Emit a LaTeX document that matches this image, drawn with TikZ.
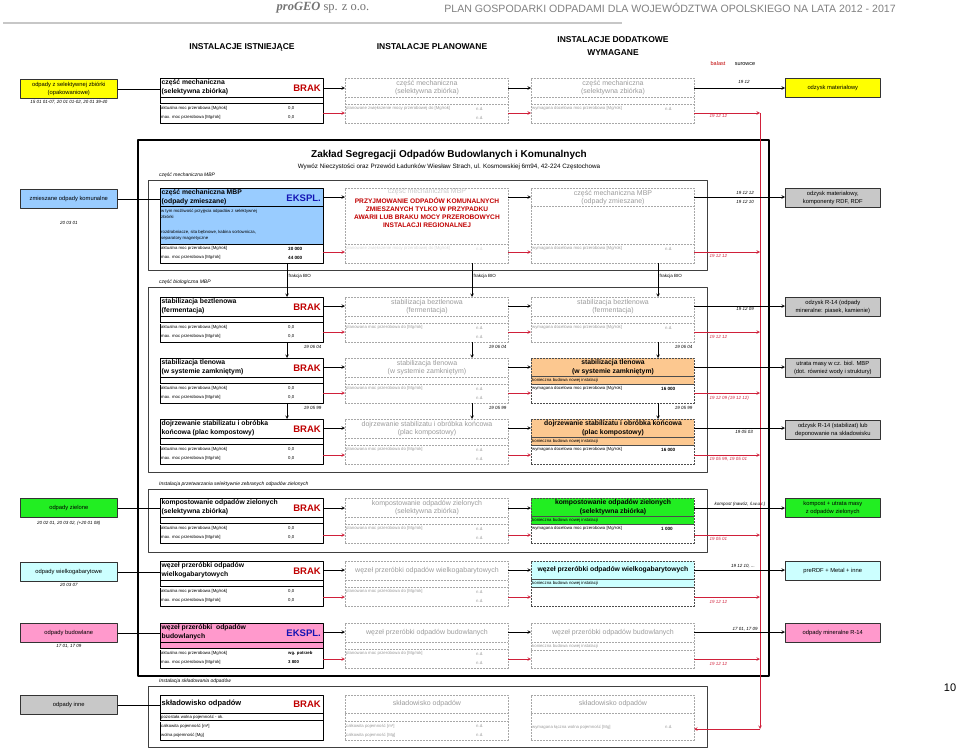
\documentclass[tikz,border=0pt]{standalone}
\usepackage{fontspec}
\setmainfont{Liberation Sans}
\newfontfamily\headserif{Liberation Serif}
\definecolor{gtxt}{HTML}{9A9A9A}
\definecolor{gline}{HTML}{A8A8A8}
\definecolor{brakred}{HTML}{C00000}
\definecolor{ekblue}{HTML}{1414B4}
\definecolor{redline}{HTML}{D0203A}
\definecolor{fyel}{HTML}{FFFF00}
\definecolor{fblue}{HTML}{99CCFF}
\definecolor{fgray}{HTML}{C8C8C8}
\definecolor{fgreen}{HTML}{22EE22}
\definecolor{fcyan}{HTML}{CCFFFF}
\definecolor{fpink}{HTML}{FF99CC}
\definecolor{forange}{HTML}{FCC890}
\begin{document}
\begin{tikzpicture}[x=1pt,y=-1pt,>=stealth,line join=round,
 box/.style={draw,minimum width=163,minimum height=45,anchor=north west,inner sep=0pt,outer sep=0pt},
 ist/.style={box,line width=0.9pt},
 pla/.style={box,draw=gline,line width=0.6pt,dash pattern=on 2pt off 1pt},
 ttl/.style={anchor=west,align=left,inner sep=0.5pt,font=\bfseries\fontsize{6.8}{8.6}\selectfont},
 cttl/.style={ttl,anchor=center,align=center},
 gttl/.style={anchor=center,align=center,inner sep=0.5pt,text=gtxt,font=\fontsize{7}{8.6}\selectfont},
 sml/.style={anchor=west,inner sep=1pt,font=\fontsize{4.3}{6}\selectfont},
 gsml/.style={sml,text=gtxt},
 val/.style={sml,font=\bfseries\fontsize{4.6}{6}\selectfont},
 stat/.style={anchor=east,inner sep=0pt,font=\bfseries\fontsize{9.5}{11}\selectfont},
 brak/.style={stat,text=brakred,node contents=BRAK},
 ekspl/.style={stat,text=ekblue,node contents=EKSPL.},
 srcbox/.style={draw=black!80,line width=0.6pt,minimum width=97,minimum height=19,anchor=north west,align=center,inner sep=0.5pt,font=\fontsize{5.8}{7.4}\selectfont},
 outbox/.style={srcbox,minimum width=95},
 code/.style={inner sep=0.5pt,font=\itshape\fontsize{4.5}{5}\selectfont},
 rlbl/.style={code,anchor=west,text=redline},
 frame/.style={draw=black!75,line width=0.6pt},
 flbl/.style={anchor=south west,inner sep=1pt,font=\itshape\fontsize{5}{6}\selectfont},
 hdr/.style={align=center,font=\bfseries\fontsize{8.5}{13}\selectfont},
 redl/.style={draw=redline,line width=0.6pt},
 dbl/.style={double,double distance=0.7pt,line width=0.4pt},
 fbio/.style={anchor=west,inner sep=0.5pt,font=\fontsize{4.5}{5}\selectfont}]
\def\istbox#1#2#3#4#5#6#7#8{%
 \fill[#4] (#2,#3) rectangle ++(163,26);
 \node[ist] (#1) at (#2,#3) {};
 \node[ttl] (#1-t) at (#2+1,#3+9.5) {#5};
 \node[name=#1-st,at={(#2+161,#3+10)},#6];
 \draw[line width=0.5pt] (#2,#3+19) -- ++(163,0);
 \draw[dbl] (#2,#3+26) -- ++(163,0);
 \node[sml] (#1-a) at (#2,#3+30.5) {aktualna moc przerobowa [Mg/rok]};
 \node[sml] (#1-av) at (#2+127,#3+30.5) {#7};
 \node[sml] (#1-m) at (#2,#3+39.5) {max. moc przerobowa [Mg/rok]};
 \node[sml] (#1-mv) at (#2+127,#3+39.5) {#8};}
\def\plabox#1#2#3#4#5{%
 \node[pla] (#1) at (#2,#3) {};
 \node[gttl] (#1-t) at (#2+82,#3+9.5) {#4};
 \draw[gline,dash pattern=on 2pt off 1pt] (#2,#3+19) -- ++(163,0) (#2,#3+26) -- ++(163,0);
 \node[gsml] (#1-a) at (#2,#3+30.5) {#5};
 \node[gsml] (#1-av) at (#2+130,#3+30.5) {n.d.};
 \node[gsml] (#1-mv) at (#2+130,#3+39.5) {n.d.};}
\def\dodbox#1#2#3#4{%
 \node[pla] (#1) at (#2,#3) {};
 \node[gttl] (#1-t) at (#2+82,#3+9.5) {#4};
 \draw[gline,dash pattern=on 2pt off 1pt] (#2,#3+19) -- ++(163,0) (#2,#3+26) -- ++(163,0);
 \node[gsml] (#1-a) at (#2,#3+30.5) {wymagana docelowa moc przerobowa [Mg/rok]};
 \node[gsml] (#1-av) at (#2+133,#3+30.5) {n.d.};}
\def\dodfill#1#2#3#4#5#6#7{%
 \fill[#4] (#2,#3) rectangle ++(163,26);
 \node[pla,draw=black!70] (#1) at (#2,#3) {};
 \node[cttl] (#1-t) at (#2+82,#3+9) {#5};
 \draw[black!70] (#2,#3+18) -- ++(163,0) (#2,#3+26) -- ++(163,0);
 \node[sml] (#1-k) at (#2,#3+22) {konieczna budowa nowej instalacji};
 \node[sml] (#1-a) at (#2,#3+30.5) {#6};
 \node[val] (#1-av) at (#2+129,#3+30.5) {#7};}
\useasboundingbox (0,0) rectangle (960,750);
\node[font=\headserif\fontsize{12.5}{14}\selectfont,text=black!55] (hd-firm) at (323,8) {\textbf{\textit{proGEO}} sp. z o.o.};
\node[font=\fontsize{10.6}{12}\selectfont,text=black!50] (hd-plan) at (670,8) {PLAN GOSPODARKI ODPADAMI DLA WOJEWÓDZTWA OPOLSKIEGO NA LATA 2012 - 2017};
\draw[black!22,line width=1.8pt] (3,23) -- (622,23);
\node[hdr] (hd-ist) at (242,47) {INSTALACJE ISTNIEJĄCE};
\node[hdr] (hd-pla) at (432,47) {INSTALACJE PLANOWANE};
\node[hdr] (hd-dod) at (613,46.5) {INSTALACJE DODATKOWE\\WYMAGANE};
\node[font=\fontsize{5.5}{6}\selectfont,text=brakred] (bal) at (718,64) {balast};
\node[font=\fontsize{5.5}{6}\selectfont] (sur) at (745,64) {surowce};
\node[font=\fontsize{11}{13}\selectfont] (pg) at (950,688) {10};
\draw[line width=1.4pt] (138,140) rectangle (769,676);
\node[font=\bfseries\fontsize{10}{12}\selectfont] (zak-t) at (449,155) {Zakład Segregacji Odpadów Budowlanych i Komunalnych};
\node[font=\fontsize{6.3}{8}\selectfont] (zak-s) at (449,167) {Wywóz Nieczystości oraz Przewód Ładunków Wiesław Strach, ul. Kosmowskiej 6m94, 42-224 Częstochowa};
\foreach \n/\a/\bb/\txt in {mech/180/270/część mechaniczna MBP,bio/287/472/część biologiczna MBP,ziel/489/552/Instalacja przetwarzania selektywnie zebranych odpadów zielonych,skl/686/747/Instalacja składowania odpadów}{
 \draw[frame] (148,\a) rectangle (707,\bb);
 \node[flbl] (fl-\n) at (158,\a-1) {\txt};}
\node[srcbox,fill=fyel] (src-s) at (20,79) {odpady z selektywnej zbiórki\\(opakowaniowe)};
\node[code,anchor=north] (cod-s) at ([yshift=-1.5pt]src-s.south) {15 01 01-07, 20 01 01-02, 20 01 39-40};
\istbox{ist-s}{160}{78}{white}{część mechaniczna\\(selektywna zbiórka)}{brak}{0,0}{0,0}
\plabox{pla-s}{345}{78}{część mechaniczna\\(selektywna zbiórka)}{planowane zwiększenie mocy przerobowej do [Mg/rok]}
\dodbox{dod-s}{531}{78}{część mechaniczna\\(selektywna zbiórka)}
\node[outbox,fill=fyel] (out-s) at (785,78) {odzysk materiałowy};
\node[srcbox,fill=fblue] (src-m) at (20,189) {zmieszane odpady komunalne};
\node[code,anchor=north] (cod-m) at ([yshift=-12.5pt]src-m.south) {20 03 01};
\fill[fblue] (160,188) rectangle ++(163,56);
\node[ist,minimum height=75] (ist-m) at (160,188) {};
\node[ttl] (ist-m-t) at (161,197.5) {część mechaniczna MBP\\(odpady zmieszane)};
\node[name=ist-m-st,at={(321,198)},ekspl];
\draw (160,206) -- ++(163,0);
\draw[line width=0.9pt] (160,244) -- ++(163,0);
\node[sml,anchor=north west,align=left] (ist-m-o) at (160,208) {w tym możliwość przyjęcia odpadów z selektywnej\\zbiórki};
\node[sml,anchor=north west,align=left] (ist-m-u) at (160,229) {rozdrabniacze, sita bębnowe, kabina sortownicza,\\separatory magnetyczne};
\node[sml] (ist-m-a) at (160,248.5) {aktualna moc przerobowa [Mg/rok]};
\node[val] (ist-m-av) at (287,248.5) {30 000};
\node[sml] (ist-m-m) at (160,257.5) {max. moc przerobowa [Mg/rok]};
\node[val] (ist-m-mv) at (287,257.5) {44 000};
\node[pla,minimum height=75] (pla-m) at (345,188) {};
\node[gttl,text=gtxt!55] (pla-m-t) at (427,192) {część mechaniczna MBP};
\node[font=\bfseries\fontsize{6.6}{8}\selectfont,text=brakred,align=center] (pla-m-r) at (427,213) {PRZYJMOWANIE ODPADÓW KOMUNALNYCH\\ZMIESZANYCH TYLKO W PRZYPADKU\\AWARII LUB BRAKU MOCY PRZEROBOWYCH\\INSTALACJI REGIONALNEJ};
\draw[gline,dash pattern=on 2pt off 1pt] (345,244) -- ++(163,0);
\node[gsml,text=gtxt!40] (pla-m-a) at (345,248.5) {planowane zwiększenie mocy przerobowej do [Mg/rok]};
\node[gsml,text=gtxt!40] (pla-m-av) at (475,248.5) {n.d.};
\node[pla,minimum height=75] (dod-m) at (531,188) {};
\node[gttl] (dod-m-t) at (613,197.5) {część mechaniczna MBP\\(odpady zmieszane)};
\draw[gline,dash pattern=on 2pt off 1pt] (531,206) -- ++(163,0) (531,244) -- ++(163,0);
\node[gsml] (dod-m-a) at (531,248.5) {wymagana docelowa moc przerobowa [Mg/rok]};
\node[gsml] (dod-m-av) at (664,248.5) {n.d.};
\node[outbox,fill=fgray] (out-m) at (785,188) {odzysk materiałowy,\\komponenty RDF, RDF};
\istbox{ist-f}{160}{297}{white}{stabilizacja beztlenowa\\(fermentacja)}{brak}{0,0}{0,0}
\plabox{pla-f}{345}{297}{stabilizacja beztlenowa\\(fermentacja)}{planowana moc przerobowa do [Mg/rok]}
\dodbox{dod-f}{531}{297}{stabilizacja beztlenowa\\(fermentacja)}
\node[outbox,fill=fgray] (out-f) at (785,297) {odzysk R-14 (odpady\\mineralne: piasek, kamienie)};
\istbox{ist-t}{160}{358}{white}{stabilizacja tlenowa\\(w systemie zamkniętym)}{brak}{0,0}{0,0}
\plabox{pla-t}{345}{358}{stabilizacja tlenowa\\(w systemie zamkniętym)}{planowana moc przerobowa do [Mg/rok]}
\dodfill{dod-t}{531}{358}{forange}{stabilizacja tlenowa\\(w systemie zamkniętym)}{wymagana docelowa moc przerobowa [Mg/rok]}{16 000}
\node[outbox,fill=fgray] (out-t) at (785,358) {utrata masy w cz. biol. MBP\\(dot. również wody i struktury)};
\istbox{ist-d}{160}{419}{white}{dojrzewanie stabilizatu i obróbka\\końcowa (plac kompostowy)}{brak}{0,0}{0,0}
\plabox{pla-d}{345}{419}{dojrzewanie stabilizatu i obróbka końcowa\\(plac kompostowy)}{planowana moc przerobowa do [Mg/rok]}
\dodfill{dod-d}{531}{419}{forange}{dojrzewanie stabilizatu i obróbka końcowa\\(plac kompostowy)}{wymagana docelowa moc przerobowa [Mg/rok]}{16 000}
\node[outbox,fill=fgray] (out-d) at (785,420) {odzysk R-14 (stabilizat) lub\\deponowanie na składowisku};
\node[srcbox,fill=fgreen] (src-z) at (20,498) {odpady zielone};
\node[code,anchor=north] (cod-z) at ([yshift=-2.5pt]src-z.south) {20 02 01, 20 03 02, (+20 01 08)};
\istbox{ist-z}{160}{498}{white}{kompostowanie odpadów zielonych\\(selektywna zbiórka)}{brak}{0,0}{0,0}
\plabox{pla-z}{345}{498}{kompostowanie odpadów zielonych\\(selektywna zbiórka)}{planowana moc przerobowa do [Mg/rok]}
\dodfill{dod-z}{531}{498}{fgreen}{kompostowanie odpadów zielonych\\(selektywna zbiórka)}{wymagana docelowa moc przerobowa [Mg/rok]}{1 000}
\node[outbox,fill=fgreen] (out-z) at (785,498) {kompost + utrata masy\\z odpadów zielonych};
\node[srcbox,fill=fcyan] (src-w) at (20,562) {odpady wielkogabarytowe};
\node[code,anchor=north] (cod-w) at ([yshift=-1pt]src-w.south) {20 03 07};
\istbox{ist-w}{160}{561}{white}{węzeł przeróbki odpadów\\wielkogabarytowych}{brak}{0,0}{0,0}
\plabox{pla-w}{345}{561}{węzeł przeróbki odpadów wielkogabarytowych}{planowana moc przerobowa do [Mg/rok]}
\dodfill{dod-w}{531}{561}{fcyan}{węzeł przeróbki odpadów wielkogabarytowych}{}{}
\node[outbox,fill=fcyan] (out-w) at (785,561) {preRDF + Metal + inne};
\node[srcbox,fill=fpink] (src-b) at (20,623) {odpady budowlane};
\node[code,anchor=north] (cod-b) at ([yshift=-1.5pt]src-b.south) {17 01, 17 09};
\istbox{ist-b}{160}{623}{fpink}{węzeł przeróbki \ odpadów\\budowlanych}{ekspl}{\textbf{wg. potrzeb}}{\textbf{3 800}}
\plabox{pla-b}{345}{623}{węzeł przeróbki odpadów budowlanych}{planowana moc przerobowa do [Mg/rok]}
\node[pla] (dod-b) at (531,623) {};
\node[gttl] (dod-b-t) at (613,632.5) {węzeł przeróbki odpadów budowlanych};
\draw[gline,dash pattern=on 2pt off 1pt] (531,642) -- ++(163,0) (531,650) -- ++(163,0);
\node[gsml] (dod-b-k) at (531,646) {konieczna budowa nowej instalacji};
\node[outbox,fill=fpink] (out-b) at (785,623) {odpady mineralne R-14};
\node[srcbox,fill=fgray] (src-k) at (20,695) {odpady inne};
\node[ist] (ist-k) at (160,695) {};
\node[ttl,font=\bfseries\fontsize{7.5}{9}\selectfont] (ist-k-t) at (161,704) {składowisko odpadów};
\node[name=ist-k-st,at={(321,704)},brak];
\draw (160,713) -- ++(163,0);
\draw[dbl] (160,721) -- ++(163,0);
\node[sml] (ist-k-p) at (160,717) {pozostała wolna pojemność - ok.};
\node[sml] (ist-k-c) at (160,726) {całkowita pojemność [m³]};
\node[sml] (ist-k-w) at (160,735) {wolna pojemność [Mg]};
\node[pla] (pla-k) at (345,695) {};
\node[gttl] (pla-k-t) at (427,704) {składowisko odpadów};
\draw[gline,dash pattern=on 2pt off 1pt] (345,713) -- ++(163,0) (345,721) -- ++(163,0);
\node[gsml] (pla-k-c) at (345,726) {całkowita pojemność [m³]};
\node[gsml] (pla-k-cv) at (475,726) {n.d.};
\node[gsml] (pla-k-w) at (345,735) {całkowita pojemność [Mg]};
\node[gsml] (pla-k-wv) at (475,735) {n.d.};
\node[pla] (dod-k) at (531,695) {};
\node[gttl] (dod-k-t) at (613,704) {składowisko odpadów};
\draw[gline,dash pattern=on 2pt off 1pt] (531,713) -- ++(163,0);
\node[gsml] (dod-k-a) at (531,727) {wymagana łączna wolna pojemność [Mg]};
\node[gsml] (dod-k-av) at (664,727) {n.d.};
\foreach \row in {s,m,z,w,b,k}{\draw[line width=0.6pt] (src-\row.east) -- (src-\row.east -| ist-\row.west);}
\coordinate (redtop) at (760,113);
\coordinate (redbot) at (760,729);
\draw[redl,->] (redtop) -- (redbot);
\draw[redl,->] (redbot) -- (redbot -| dod-k.east);
\foreach \row/\bo/\rd in {s/10/35,m/9/64,f/9/35,t/9/35,d/9/36,z/10/37,w/9/36,b/9/36}{
 \draw[line width=0.6pt,->] ([shift={(0,\bo)}]ist-\row.north east) -- ([shift={(0,\bo)}]pla-\row.north west);
 \draw[line width=0.6pt,->] ([shift={(0,\bo)}]pla-\row.north east) -- ([shift={(0,\bo)}]dod-\row.north west);
 \draw[line width=0.6pt,->] ([shift={(0,\bo)}]dod-\row.north east) coordinate (o) -- (o -| out-\row.west);
 \draw[redl,->] ([shift={(0,\rd)}]ist-\row.north east) -- ([shift={(0,\rd)}]pla-\row.north west);
 \draw[redl,->] ([shift={(0,\rd)}]pla-\row.north east) -- ([shift={(0,\rd)}]dod-\row.north west);
 \draw[redl,->] ([shift={(0,\rd)}]dod-\row.north east) coordinate (o) -- (o -| redtop);}
\foreach \n/\x/\y/\txt in {1/744/82/19 12,2/745/193/19 12 12,3/745/202/19 12 10,4/745/309/19 12 09,5/744/432/19 05 03,6/740/504/{kompost (nawóz, ś.w.u.r.)},7/743/566/{19 12 10, ...},8/745/629/{17 01, 17 09}}{\node[code] (ol-\n) at (\x,\y) {\txt};}
\foreach \n/\y/\txt in {1/116/19 12 12,2/256/19 12 12,3/337/19 12 12,4/398/19 12 09 (19 12 12),5/459/{19 05 99, 19 05 01},6/539/19 05 01,7/602/19 12 12,8/664/19 12 12}{\node[rlbl] (rl-\n) at (709,\y) {\txt};}
\foreach \col in {ist,pla,dod}{
 \draw[line width=0.6pt,->] ([xshift=127pt]\col-m.south west) -- ([xshift=127pt]\col-f.north west);
 \draw[line width=0.6pt,->] ([xshift=127pt]\col-f.south west) -- ([xshift=127pt]\col-t.north west);
 \draw[line width=0.6pt,->] ([xshift=127pt]\col-t.south west) -- ([xshift=127pt]\col-d.north west);
 \node[fbio] (bio-\col) at ([shift={(128,13)}]\col-m.south west) {frakcja BIO};
 \node[code,anchor=east] (cf-\col) at ([shift={(-1,5)}]\col-f.south east) {19 06 04};
 \node[code,anchor=east] (ct-\col) at ([shift={(-1,5)}]\col-t.south east) {19 05 99};}
\end{tikzpicture}
\end{document}
